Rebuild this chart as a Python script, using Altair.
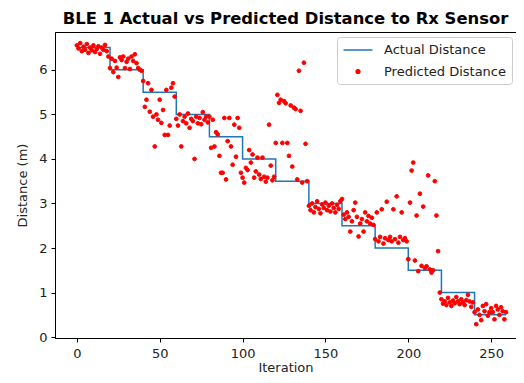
import altair as alt
import pandas as pd

# Actual distance: step levels (iteration where each level starts)
step_x = [0, 20, 40, 60, 80, 100, 120, 140, 160, 180, 200, 220, 240, 259]
step_y = [6.5, 6.0, 5.5, 5.0, 4.5, 4.0, 3.5, 3.0, 2.5, 2.0, 1.5, 1.0, 0.5, 0.5]

# Predicted distance, read per block of 20 iterations
pred_000 = [6.55, 6.48, 6.60, 6.42, 6.52, 6.45, 6.58, 6.38, 6.50, 6.44,
            6.55, 6.40, 6.47, 6.53, 6.36, 6.50, 6.45, 6.56, 6.42, 6.30]
pred_020 = [6.04, 6.25, 5.95, 6.20, 6.05, 5.84, 6.28, 6.22, 6.30, 6.04,
            6.18, 6.25, 6.02, 6.30, 6.20, 6.35, 6.15, 6.04, 6.00, 5.98]
pred_040 = [5.75, 5.17, 5.33, 5.70, 5.06, 5.55, 4.95, 4.28, 5.00, 4.88,
            5.33, 4.81, 5.10, 4.54, 5.55, 4.54, 4.75, 5.60, 5.70, 5.40]
pred_060 = [4.90, 4.75, 5.00, 4.28, 4.85, 4.95, 4.80, 5.02, 4.70, 4.90,
            4.85, 4.00, 4.95, 4.80, 4.92, 4.78, 5.05, 4.88, 4.95, 4.82]
pred_080 = [4.95, 4.25, 4.88, 4.28, 4.60, 4.55, 4.07, 3.69, 3.69, 4.92,
            3.54, 4.40, 4.92, 4.28, 3.87, 4.77, 4.05, 4.92, 4.70, 3.69]
pred_100 = [3.58, 3.47, 3.80, 3.75, 4.20, 3.92, 4.10, 3.58, 3.72, 4.03,
            3.65, 3.55, 4.03, 3.60, 3.49, 3.58, 4.77, 3.85, 3.52, 3.60]
pred_120 = [4.36, 5.44, 5.26, 5.33, 4.36, 5.30, 5.25, 4.36, 4.07, 5.20,
            3.83, 5.15, 5.12, 3.54, 5.98, 5.08, 3.47, 6.16, 4.34, 3.50]
pred_140 = [2.95, 2.85, 3.00, 2.80, 2.92, 3.05, 2.88, 2.78, 2.98, 2.90,
            3.02, 2.85, 2.95, 2.82, 3.00, 2.90, 2.80, 2.97, 2.88, 3.05]
pred_160 = [3.10, 2.75, 2.65, 2.80, 2.70, 2.37, 2.60, 2.85, 3.02, 2.70,
            2.26, 2.55, 2.65, 2.37, 2.80, 2.60, 2.72, 2.55, 2.68, 2.52]
pred_180 = [2.20, 2.80, 2.15, 2.25, 2.87, 2.10, 2.22, 3.04, 2.18, 2.25,
            2.15, 2.87, 2.20, 3.16, 2.12, 2.25, 2.80, 2.18, 2.22, 2.15]
pred_200 = [1.75, 3.02, 3.74, 3.92, 1.72, 2.73, 1.48, 3.22, 1.60, 2.93,
            1.55, 1.59, 3.63, 1.52, 1.45, 1.50, 3.50, 2.73, 1.93, 1.00]
pred_220 = [0.85, 0.75, 0.80, 0.72, 0.88, 0.78, 0.70, 0.82, 0.76, 0.90,
            0.80, 0.74, 0.85, 0.78, 0.72, 0.83, 0.95, 0.80, 0.68, 0.78]
pred_240 = [0.56, 0.29, 0.62, 0.50, 0.38, 0.70, 0.58, 0.74, 0.48, 0.56,
            0.65, 0.56, 0.40, 0.70, 0.62, 0.50, 0.67, 0.58, 0.40, 0.56]

predicted = (pred_000 + pred_020 + pred_040 + pred_060 + pred_080 + pred_100 +
             pred_120 + pred_140 + pred_160 + pred_180 + pred_200 + pred_220 + pred_240)
iterations = list(range(len(predicted)))

series_names = ["Actual Distance", "Predicted Distance"]
x_ticks = [0, 50, 100, 150, 200, 250]
y_ticks = [0, 1, 2, 3, 4, 5, 6]

df_actual = pd.DataFrame({"iteration": step_x, "distance": step_y})
df_pred = pd.DataFrame({"iteration": iterations, "distance": predicted,
                        "series": ["Predicted Distance"] * len(predicted)})

x_enc = alt.X("iteration:Q",
              scale=alt.Scale(domain=[-13.2, 265], nice=False, zero=False),
              axis=alt.Axis(values=x_ticks, title="Iteration", titlePadding=1,
                            labelPadding=5))
y_enc = alt.Y("distance:Q",
              scale=alt.Scale(domain=[-0.02, 6.85], nice=False, zero=False),
              axis=alt.Axis(values=y_ticks, title="Distance (m)", titlePadding=9,
                            labelPadding=4))

legend = alt.Legend(title=None, orient="none", legendX=282, legendY=5,
                    fillColor="white", strokeColor="#cccccc", cornerRadius=3,
                    padding=5, labelFontSize=13, labelFont="DejaVu Sans",
                    labelColor="#222222", symbolStrokeWidth=1.5, rowPadding=8,
                    symbolOffset=8, labelOffset=18)

line = alt.Chart(df_actual).mark_line(
    interpolate="step-after", color="#1f77b4", strokeWidth=1.5
).encode(x=x_enc, y=y_enc)

points = alt.Chart(df_pred).mark_point(
    filled=False, strokeWidth=1, opacity=1
).encode(
    x=x_enc, y=y_enc,
    color=alt.Color("series:N", scale=alt.Scale(domain=series_names,
                                                range=["#1f77b4", "red"]),
                    legend=legend),
    shape=alt.Shape("series:N", scale=alt.Scale(domain=series_names,
                                                range=["M-2,0H2", "circle"]),
                    legend=legend),
    size=alt.Size("series:N", scale=alt.Scale(domain=series_names,
                                              range=[210, 14]),
                  legend=legend),
    fill=alt.value("red"),
)

chart = alt.layer(line, points).properties(
    width=461, height=306,
    autosize=alt.AutoSizeParams(type="none"),
    padding={"left": 47, "top": 24, "right": 0, "bottom": 37},
    title=alt.TitleParams("BLE 1 Actual vs Predicted Distance to Rx Sensor",
                          fontSize=16.4, fontWeight="bold", font="DejaVu Sans",
                          color="black", anchor="middle", offset=5),
).configure_axis(
    domainColor="black", tickColor="black", labelColor="#222222",
    titleColor="#222222", labelFont="DejaVu Sans", titleFont="DejaVu Sans",
    labelFontSize=13, titleFontSize=13, titleFontWeight="normal",
    tickSize=4, grid=False,
).configure_view(stroke="black", strokeWidth=1)

chart.save("out.html", embed_options={"renderer": "svg", "actions": False})
